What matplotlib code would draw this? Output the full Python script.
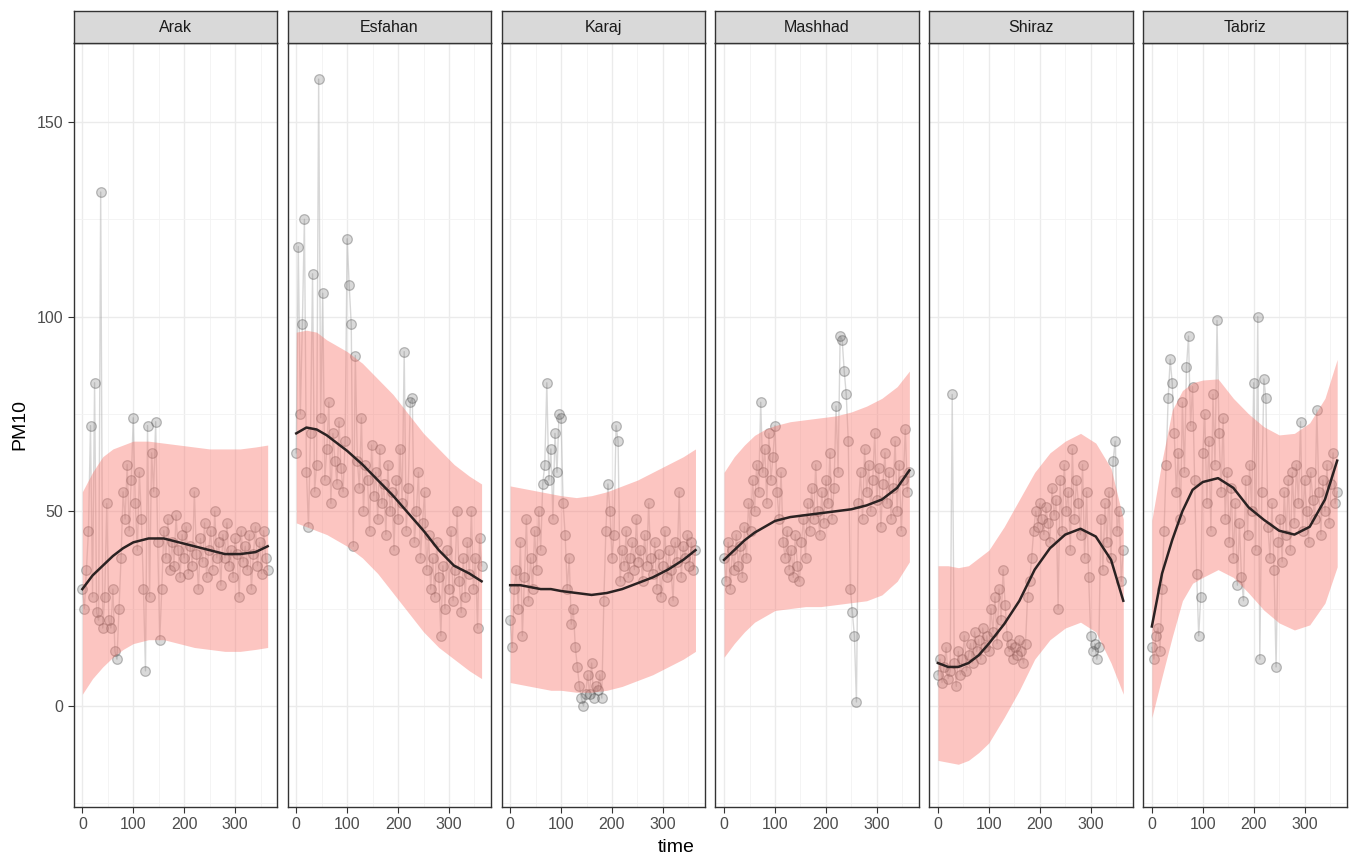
import numpy as np
import matplotlib
matplotlib.use("Agg")
import matplotlib.pyplot as plt

plt.rcParams["font.family"] = ["Liberation Sans", "DejaVu Sans"]

cities = ["Arak", "Esfahan", "Karaj", "Mashhad", "Shiraz", "Tabriz"]

# observed PM10, one value every 4 days (day 0 .. 364)
pm_arak = [30, 25, 35, 45, 72, 28, 83, 24, 22, 132, 20, 28, 52, 22, 20, 30, 14, 12, 25, 38,
           55, 48, 62, 45, 58, 74, 52, 40, 60, 48, 30, 9, 72, 28, 65, 55, 73, 42, 17, 30,
           45, 38, 48, 35, 42, 36, 49, 40, 33, 44, 38, 46, 34, 41, 36, 55, 39, 30, 43, 37,
           47, 33, 40, 45, 35, 50, 38, 42, 31, 44, 38, 47, 36, 40, 33, 43, 39, 28, 45, 37,
           41, 35, 44, 30, 39, 46, 36, 42, 34, 45, 38, 35]
pm_esfahan = [65, 118, 75, 98, 125, 60, 46, 70, 111, 55, 62, 161, 74, 106, 58, 66, 78, 52, 70, 63,
              57, 73, 61, 55, 68, 120, 108, 98, 41, 90, 63, 56, 74, 50, 62, 58, 45, 67, 54, 60,
              48, 66, 52, 57, 44, 62, 50, 55, 40, 58, 48, 66, 52, 91, 45, 56, 78, 79, 42, 50,
              60, 38, 47, 55, 35, 44, 30, 38, 28, 42, 33, 18, 36, 25, 40, 30, 45, 27, 35, 50,
              32, 24, 38, 28, 42, 34, 50, 30, 38, 20, 43, 36]
pm_karaj = [22, 15, 30, 35, 25, 42, 18, 33, 48, 27, 38, 30, 45, 35, 50, 40, 57, 62, 83, 58,
            66, 48, 70, 60, 75, 74, 52, 44, 30, 38, 21, 25, 15, 10, 5, 2, 0, 3, 8, 3,
            11, 2, 5, 4, 8, 2, 27, 45, 57, 50, 38, 44, 72, 68, 32, 40, 36, 45, 33, 38,
            42, 35, 48, 37, 40, 32, 44, 36, 52, 38, 34, 42, 30, 39, 28, 36, 45, 33, 40, 35,
            27, 42, 37, 55, 33, 41, 38, 44, 36, 42, 35, 40]
pm_mashhad = [38, 32, 42, 30, 40, 35, 44, 36, 41, 33, 46, 38, 52, 45, 58, 50, 62, 55, 78, 60,
              66, 52, 70, 58, 64, 72, 55, 48, 60, 42, 38, 45, 35, 40, 33, 44, 36, 32, 42, 48,
              38, 52, 45, 56, 48, 62, 50, 44, 55, 47, 58, 52, 65, 48, 56, 77, 60, 95, 94, 86,
              80, 68, 30, 24, 18, 1, 52, 60, 48, 66, 55, 62, 50, 58, 70, 53, 61, 46, 57, 65,
              52, 60, 48, 56, 68, 50, 62, 45, 58, 71, 55, 60]
pm_shiraz = [8, 12, 6, 10, 15, 7, 9, 80, 11, 5, 14, 8, 12, 18, 9, 13, 16, 11, 19, 14,
             17, 12, 20, 15, 18, 14, 25, 19, 28, 16, 30, 22, 35, 26, 18, 14, 16, 12, 15, 13,
             17, 14, 11, 16, 28, 32, 38, 45, 50, 46, 52, 48, 44, 51, 47, 42, 56, 49, 53, 25,
             58, 45, 62, 50, 55, 40, 66, 48, 58, 52, 44, 62, 38, 55, 33, 18, 14, 16, 12, 15,
             48, 35, 52, 42, 55, 38, 63, 68, 45, 50, 32, 40]
pm_tabriz = [15, 12, 18, 20, 14, 30, 45, 62, 79, 89, 83, 70, 55, 65, 48, 78, 60, 87, 95, 72,
             82, 58, 34, 18, 28, 65, 75, 52, 68, 45, 80, 62, 99, 70, 55, 74, 48, 60, 42, 56,
             38, 52, 31, 47, 33, 27, 58, 44, 62, 50, 83, 40, 100, 12, 55, 84, 79, 46, 38, 52,
             35, 10, 42, 48, 37, 55, 44, 58, 40, 60, 47, 62, 52, 73, 45, 58, 50, 42, 60, 53,
             48, 76, 55, 44, 58, 50, 62, 47, 57, 65, 52, 55]

# fitted trend and prediction band, read at these days
fit_days = [0, 20, 40, 60, 80, 100, 130, 160, 190, 220, 250, 280, 310, 340, 364]

fit_arak = [30, 33.5, 36, 38.5, 40.5, 42, 43, 43, 42, 41, 40, 39, 39, 39.5, 41]
lo_arak = [3, 7, 10, 12.5, 14.5, 16, 17, 17, 16, 15, 14.5, 14, 14, 14.5, 15]
hi_arak = [55, 60, 64, 66, 67, 68, 68, 67.5, 67, 66.5, 66, 66, 66, 66.5, 67]

fit_esfahan = [70, 71.5, 71, 69.5, 67.5, 65.5, 62, 58, 54, 49.5, 45, 40, 36, 34, 32]
lo_esfahan = [47, 46, 45, 44, 42.5, 41, 38, 34, 29, 24, 19, 15, 12, 9, 7]
hi_esfahan = [96, 96.5, 96, 94, 92.5, 91, 88, 84, 80, 75, 70, 66, 62, 59, 57]

fit_karaj = [31, 31, 30.5, 30, 30, 29.5, 29, 28.5, 29, 30, 31.5, 33, 35, 37.5, 40]
lo_karaj = [6, 5.5, 5, 4.5, 4, 4, 3.5, 3.5, 4, 5, 6.5, 8, 10, 12, 14]
hi_karaj = [56.5, 56, 55.5, 55, 54.5, 54, 53.5, 54, 55, 56.5, 58, 60, 62, 64, 66]

fit_mashhad = [37.5, 40, 42.5, 44.5, 46, 47.5, 48.5, 49, 49.5, 50, 50.5, 51.5, 53, 56, 60.5]
lo_mashhad = [12.5, 16, 19, 21.5, 23, 24.5, 25, 25.5, 25.5, 26, 26.5, 27, 28.5, 32, 37]
hi_mashhad = [60, 64, 67, 69.5, 71, 72, 73, 73.5, 74, 74.5, 75.5, 77, 79, 82, 86]

fit_shiraz = [11, 10, 10, 11, 13, 16, 21, 27, 35, 40.5, 44, 45.5, 43.5, 37.5, 27]
lo_shiraz = [-14, -14.5, -15, -14, -12, -9.5, -3, 4, 12, 17, 20, 21.5, 19, 11, 3]
hi_shiraz = [36, 36, 35.5, 36, 38, 40, 46, 53, 60, 65, 68, 70, 67.5, 61, 48]

fit_tabriz = [20.4, 34, 42.6, 50, 55.5, 57.5, 58.5, 56, 51, 47.8, 45, 44, 46, 53, 63]
lo_tabriz = [-3, 7.5, 17.7, 27, 31.5, 33, 35, 33, 29, 24.6, 21.3, 19.5, 20.8, 26.4, 35.7]
hi_tabriz = [47.7, 63, 76, 81, 83, 83.7, 84, 79, 75, 71.7, 69.6, 70, 72.7, 79, 89]

observed = [pm_arak, pm_esfahan, pm_karaj, pm_mashhad, pm_shiraz, pm_tabriz]
fits = [fit_arak, fit_esfahan, fit_karaj, fit_mashhad, fit_shiraz, fit_tabriz]
lows = [lo_arak, lo_esfahan, lo_karaj, lo_mashhad, lo_shiraz, lo_tabriz]
highs = [hi_arak, hi_esfahan, hi_karaj, hi_mashhad, hi_shiraz, hi_tabriz]

fig = plt.figure(figsize=(13.53, 8.59), dpi=100)

left0 = 73.7 / 1353
step = 213.9 / 1353
width = 203.4 / 1353
bottom = 1 - 806.7 / 859
height = (806.7 - 43.3) / 859
strip_h = 32.6 / 859

for i, city in enumerate(cities):
    ax = fig.add_axes([left0 + i * step, bottom, width, height])
    vals = observed[i]
    days = np.linspace(0, 364, len(vals))

    # grey path + points
    ax.plot(days, vals, color="#a8a8a8", alpha=0.45, lw=1.0, zorder=2)
    ax.scatter(days, vals, s=48, facecolors=(0.33, 0.33, 0.33, 0.22),
               edgecolors=(0.33, 0.33, 0.33, 0.38), linewidths=0.9, zorder=3)
    # prediction band
    ax.fill_between(fit_days, lows[i], highs[i], color="#F8766D", alpha=0.42,
                    linewidth=0, zorder=4)
    # fitted trend
    ax.plot(fit_days, fits[i], color="#2b2222", lw=1.8, zorder=5)

    ax.set_xlim(-17, 382.5)
    ax.set_ylim(-25.9, 170.2)
    ax.set_xticks([0, 100, 200, 300])
    ax.set_xticks([50, 150, 250, 350], minor=True)
    ax.set_yticks([0, 50, 100, 150])
    ax.set_yticks([-25, 25, 75, 125], minor=True)
    ax.grid(which="major", color="#ebebeb", lw=1.0, zorder=0)
    ax.grid(which="minor", color="#f3f3f3", lw=0.6, zorder=0)
    ax.set_axisbelow(True)
    for sp in ax.spines.values():
        sp.set_color("#333333")
        sp.set_linewidth(1.0)
    ax.tick_params(which="major", length=4, color="#333333", labelcolor="#4d4d4d",
                   labelsize=11.5)
    ax.tick_params(which="minor", length=0)
    if i > 0:
        ax.tick_params(axis="y", left=False, labelleft=False)
    else:
        ax.set_ylabel("PM10", fontsize=14, color="black", labelpad=6)

    # facet strip
    sax = fig.add_axes([left0 + i * step, bottom + height, width, strip_h])
    sax.set_facecolor("#d9d9d9")
    sax.set_xticks([])
    sax.set_yticks([])
    for sp in sax.spines.values():
        sp.set_color("#333333")
        sp.set_linewidth(1.0)
    sax.text(0.5, 0.48, city, ha="center", va="center", fontsize=11.5,
             color="#1a1a1a", transform=sax.transAxes)

fig.text(0.5, 0.004, "time", ha="center", va="bottom", fontsize=14)

fig.savefig("out.png", dpi=100)
